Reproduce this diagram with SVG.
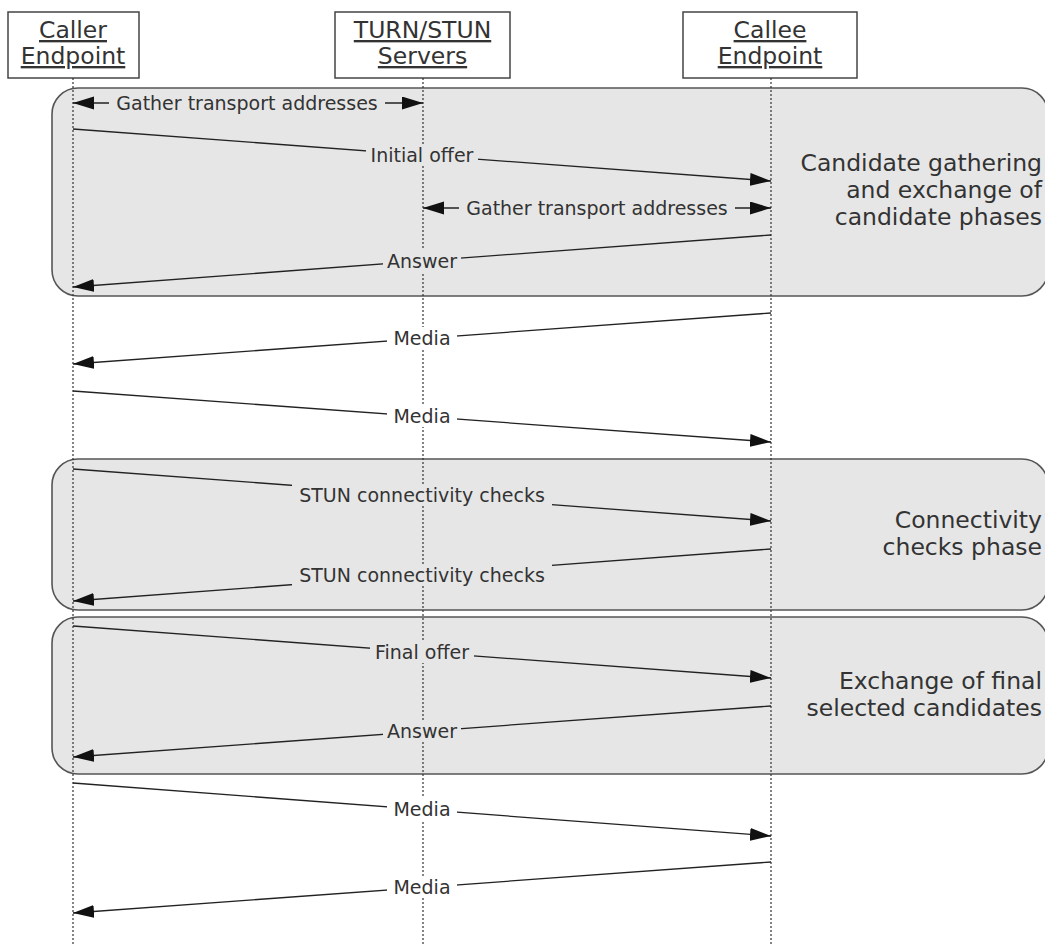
<svg xmlns="http://www.w3.org/2000/svg" width="1045" height="946" viewBox="0 0 1045 946">
<defs>
<style>
.hdr{fill:#fff;stroke:#444;stroke-width:1.5}
.ht{font-family:"DejaVu Sans",Verdana,sans-serif;font-size:23.5px;fill:#333;text-anchor:middle;text-decoration:underline}
.phase{fill:#e6e6e6;stroke:#555;stroke-width:1.6}
.pt{font-family:"DejaVu Sans",Verdana,sans-serif;font-size:23.5px;fill:#333;text-anchor:end}
.life{stroke:#333;stroke-width:1.2;stroke-dasharray:2,2;fill:none}
.msg{stroke:#222;stroke-width:1.3;fill:none;marker-end:url(#ah)}
.dbl{marker-start:url(#ah)}
.lt{font-family:"DejaVu Sans",Verdana,sans-serif;font-size:19px;fill:#333;text-anchor:middle}
.bg1{fill:#e6e6e6}
.bg0{fill:#fff}
</style>
<marker id="ah" markerUnits="userSpaceOnUse" markerWidth="22" markerHeight="14" refX="21" refY="6.5" orient="auto-start-reverse" viewBox="0 0 22 14">
<path d="M0,0 L21,6.5 L0,13 z" fill="#111"/>
</marker>
</defs>
<rect width="1045" height="946" fill="#fff"/>

<g id="phase-candidate">
<rect class="phase" x="52" y="88" width="996" height="208" rx="26" ry="26"/>
<text class="pt" x="1042" y="171">Candidate gathering</text>
<text class="pt" x="1042" y="198">and exchange of</text>
<text class="pt" x="1042" y="225">candidate phases</text>
</g>
<g id="phase-connectivity">
<rect class="phase" x="52" y="459" width="996" height="151" rx="26" ry="26"/>
<text class="pt" x="1042" y="528">Connectivity</text>
<text class="pt" x="1042" y="555">checks phase</text>
</g>
<g id="phase-final">
<rect class="phase" x="52" y="617" width="996" height="157" rx="26" ry="26"/>
<text class="pt" x="1042" y="689">Exchange of final</text>
<text class="pt" x="1042" y="716">selected candidates</text>
</g>

<g id="caller">
<rect class="hdr" x="8" y="12" width="131" height="66"/>
<text class="ht" x="73" y="38">Caller</text>
<text class="ht" x="73" y="64">Endpoint</text>
<line class="life" x1="73" y1="78" x2="73" y2="946"/>
</g>
<g id="turn">
<rect class="hdr" x="335" y="12" width="175" height="66"/>
<text class="ht" x="422.5" y="38">TURN/STUN</text>
<text class="ht" x="422.5" y="64">Servers</text>
<line class="life" x1="423" y1="78" x2="423" y2="946"/>
</g>
<g id="callee">
<rect class="hdr" x="683" y="12" width="174" height="66"/>
<text class="ht" x="770" y="38">Callee</text>
<text class="ht" x="770" y="64">Endpoint</text>
<line class="life" x1="771" y1="78" x2="771" y2="946"/>
</g>

<g id="connectors">
<line class="msg dbl" x1="73" y1="103" x2="423" y2="103"/>
<rect class="bg1" x="109" y="92" width="276" height="22"/>
<text class="lt" x="247" y="110">Gather transport addresses</text>

<line class="msg" x1="73" y1="129" x2="771" y2="181"/>
<rect class="bg1" x="366" y="144" width="112" height="22"/>
<text class="lt" x="422" y="162">Initial offer</text>

<line class="msg dbl" x1="423" y1="208" x2="771" y2="208"/>
<rect class="bg1" x="459" y="197" width="276" height="22"/>
<text class="lt" x="597" y="215">Gather transport addresses</text>

<line class="msg" x1="771" y1="235" x2="73" y2="287"/>
<rect class="bg1" x="383" y="250" width="78" height="22"/>
<text class="lt" x="422" y="268">Answer</text>

<line class="msg" x1="771" y1="313" x2="73" y2="364"/>
<rect class="bg0" x="387" y="327" width="70" height="22"/>
<text class="lt" x="422" y="345">Media</text>

<line class="msg" x1="73" y1="391" x2="771" y2="442"/>
<rect class="bg0" x="387" y="405" width="70" height="22"/>
<text class="lt" x="422" y="423">Media</text>

<line class="msg" x1="73" y1="469" x2="771" y2="521"/>
<rect class="bg1" x="292" y="484" width="260" height="22"/>
<text class="lt" x="422" y="502">STUN connectivity checks</text>

<line class="msg" x1="771" y1="549" x2="73" y2="601"/>
<rect class="bg1" x="292" y="564" width="260" height="22"/>
<text class="lt" x="422" y="582">STUN connectivity checks</text>

<line class="msg" x1="73" y1="626" x2="771" y2="678"/>
<rect class="bg1" x="370" y="641" width="104" height="22"/>
<text class="lt" x="422" y="659">Final offer</text>

<line class="msg" x1="771" y1="706" x2="73" y2="757"/>
<rect class="bg1" x="383" y="720" width="78" height="22"/>
<text class="lt" x="422" y="738">Answer</text>

<line class="msg" x1="73" y1="783" x2="771" y2="836"/>
<rect class="bg0" x="387" y="798" width="70" height="22"/>
<text class="lt" x="422" y="816">Media</text>

<line class="msg" x1="771" y1="862" x2="73" y2="913"/>
<rect class="bg0" x="387" y="876" width="70" height="22"/>
<text class="lt" x="422" y="894">Media</text>
</g>
</svg>
